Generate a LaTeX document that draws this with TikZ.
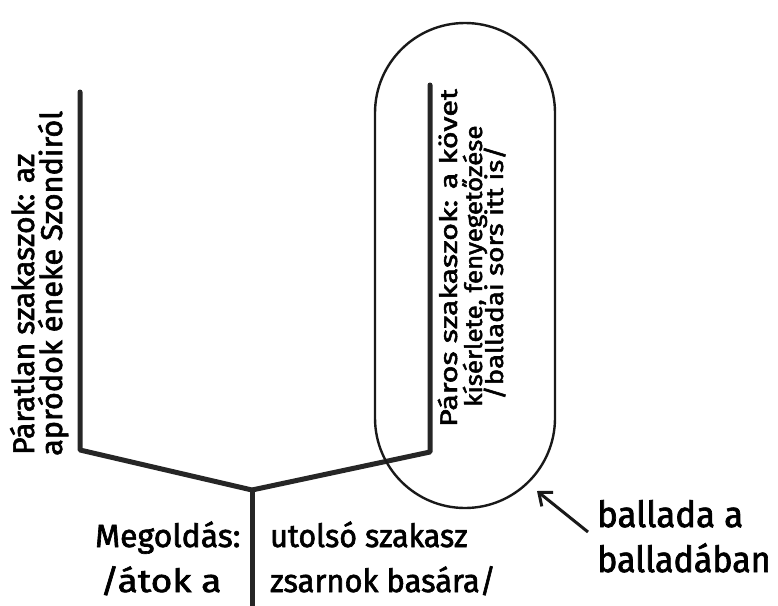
\documentclass[tikz,border=0pt]{standalone}
\usepackage{fontspec}
\usetikzlibrary{arrows.meta}
\newfontfamily\hand[FakeBold=2]{Fira Sans}
\newcommand{\squeeze}[2]{\scalebox{#1}[1]{#2}}
\tikzset{
  branch/.style={line width=5pt, draw=black!85, line join=round, line cap=round},
  balloonbox/.style={draw=black!90, line width=2.4pt, rounded corners=90pt, minimum width=180pt, minimum height=485pt, inner sep=0pt},
  pointer/.style={line width=3pt, draw=black!90, -{Straight Barb[length=11pt,width=18pt,line width=3pt]}},
  lefttext/.style={rotate=90, anchor=base west, inner sep=0pt, font=\hand\fontsize{30}{36}\selectfont},
  righttext/.style={rotate=90, anchor=base west, inner sep=0pt, font=\hand\fontsize{24}{28}\selectfont},
  bottomtext/.style={anchor=base west, inner sep=0pt, font=\hand\fontsize{32}{40}\selectfont},
  notetext/.style={anchor=base west, inner sep=0pt, font=\hand\fontsize{36}{44}\selectfont},
}
\begin{document}
\begin{tikzpicture}[x=1pt, y=-1pt]
\useasboundingbox (0,0) rectangle (778,605);
% branch skeleton
\coordinate (ltop) at (80,92);
\coordinate (lcorner) at (80,450);
\coordinate (junction) at (252,490);
\coordinate (rcorner) at (430,452);
\coordinate (rtop) at (430,85);
\coordinate (stemend) at (252,610);
\draw[branch] (ltop) -- (lcorner) -- (junction) -- (rcorner) -- (rtop);
\draw[branch] (junction) -- (stemend);
% balloon
\node[balloonbox] (balloon) at (465,265.5) {};
% arrow
\coordinate (arrowtail) at (588,532);
\coordinate (arrowtip) at (537,491);
\draw[pointer] (arrowtail) -- (arrowtip);
% left texts
\node[lefttext] (l1) at (34,455) {\squeeze{1.0}{Páratlan szakaszok: az}};
\node[lefttext] (l2) at (62,456) {\squeeze{1.02}{apródok éneke Szondiról}};
% right texts
\node[righttext] (r1) at (457,427) {\squeeze{1.27}{Páros szakaszok: a követ}};
\node[righttext] (r2) at (482,407) {\squeeze{1.08}{kísérlete, fenyegetőzése}};
\node[righttext] (r3) at (503,400) {\squeeze{1.16}{/balladai sors itt is/}};
% bottom texts
\node[bottomtext] (b1) at (95,547) {Megoldás:};
\node[bottomtext] (b2) at (100,592) {\squeeze{1.16}{/átok a}};
\node[bottomtext] (b3) at (270,547) {\squeeze{0.95}{utolsó szakasz}};
\node[bottomtext] (b4) at (270,592) {\squeeze{0.966}{zsarnok basára/}};
% note
\node[notetext] (n1) at (597,527) {\squeeze{0.967}{ballada a}};
\node[notetext] (n2) at (597,572) {\squeeze{0.945}{balladában}};
\end{tikzpicture}
\end{document}
